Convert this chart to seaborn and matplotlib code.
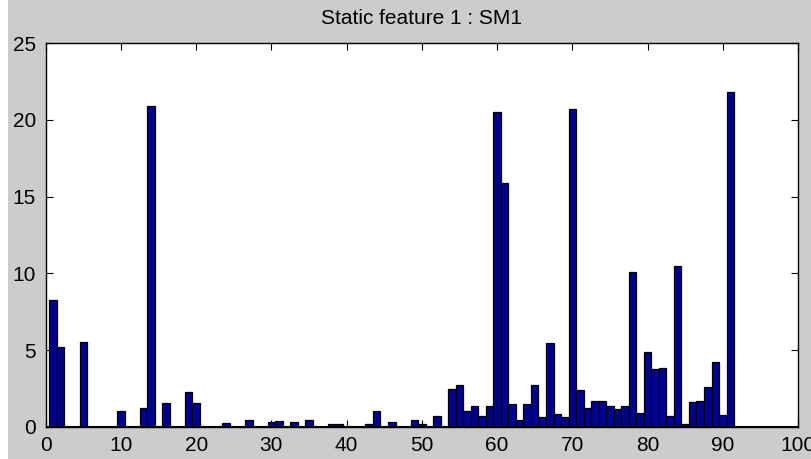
import matplotlib
matplotlib.use("Agg")
import matplotlib.pyplot as plt
from matplotlib.patches import Rectangle
import seaborn as sns
import numpy as np
import pandas as pd

# ---- data ----
feature_index = list(range(1, 92))
feature_value = [
    8.26, 5.2, 0, 0, 5.5, 0, 0, 0, 0, 1.0,
    0, 0, 1.2, 20.9, 0, 1.55, 0, 0, 2.25, 1.55,
    0, 0, 0, 0.25, 0, 0, 0.45, 0, 0, 0.3,
    0.4, 0, 0.3, 0, 0.45, 0, 0, 0.15, 0.15, 0,
    0, 0, 0.2, 1.0, 0, 0.3, 0, 0, 0.45, 0.2,
    0, 0.7, 0, 2.45, 2.7, 1.0, 1.35, 0.7, 1.35, 20.5,
    15.9, 1.45, 0.45, 1.45, 2.7, 0.65, 5.45, 0.85, 0.65, 20.7,
    2.4, 1.25, 1.7, 1.7, 1.35, 1.15, 1.35, 10.1, 0.9, 4.85,
    3.75, 3.85, 0.7, 10.5, 0.2, 1.6, 1.7, 2.6, 4.2, 0.75,
    21.85,
]
x_ticks = list(range(0, 101, 10))
y_ticks = list(range(0, 26, 5))
title_text = "Static feature 1 : SM1"

df = pd.DataFrame({"idx": feature_index, "val": feature_value})

sns.set_style("ticks")
plt.rcParams["font.family"] = ["Liberation Sans Narrow", "Liberation Sans", "DejaVu Sans"]

fig = plt.figure(figsize=(8.11, 4.59), dpi=100, facecolor="#cccccc")
fig.patches.append(Rectangle((0, 0), 8 / 811, 1, transform=fig.transFigure,
                             facecolor="white", edgecolor="none", zorder=-10))
ax = fig.add_axes([0.0563, 0.0704, 0.9277, 0.8353])
ax.set_facecolor("white")

sns.barplot(data=df, x="idx", y="val", native_scale=True, width=1.0,
            color="#00008f", saturation=1, edgecolor="black", linewidth=0.9,
            ax=ax)

ax.set_xlim(0, 100)
ax.set_ylim(0, 25)
ax.set_xticks(x_ticks)
ax.set_yticks(y_ticks)
ax.set_xticklabels([str(t) for t in x_ticks])
ax.set_yticklabels([str(t) for t in y_ticks])
ax.set_xlabel("")
ax.set_ylabel("")
ax.tick_params(direction="in", length=5, width=0.8, top=True, right=True,
               labelsize=15, pad=7, colors="black")
for s in ax.spines.values():
    s.set_visible(True)
    s.set_linewidth(1.0)
    s.set_color("black")
ax.axhline(0, color="black", linewidth=1.5, zorder=5)
ax.set_title(title_text, fontsize=15, pad=14, color="black")

fig.savefig("out.png", dpi=100, facecolor=fig.get_facecolor())
